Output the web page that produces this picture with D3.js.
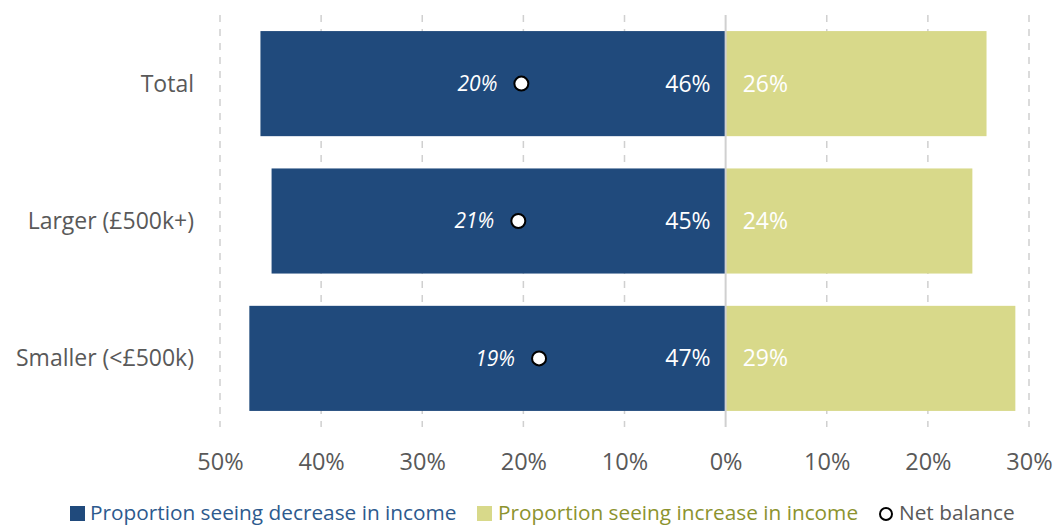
<!DOCTYPE html>
<html><head><meta charset="utf-8">
<script src="https://cdn.jsdelivr.net/npm/d3@7"></script>
<style>body{margin:0;background:#fff}svg{display:block}</style>
</head><body><svg id="c" width="1056" height="526"></svg>
<script>
const categories = ["Total", "Larger (£500k+)", "Smaller (<£500k)"];
const decrease = [46, 44.9, 47.1];
const increase = [25.8, 24.4, 28.65];
const netBalance = [-20.2, -20.5, -18.45];
const decreaseLabels = ["46%", "45%", "47%"];
const increaseLabels = ["26%", "24%", "29%"];
const netLabels = ["20%", "21%", "19%"];
const tickValues = [-50, -40, -30, -20, -10, 0, 10, 20, 30];
const legendLabels = ["Proportion seeing decrease in income", "Proportion seeing increase in income", "Net balance"];

const FONT = "'Open Sans', 'Noto Sans', sans-serif";
const blue = "#204A7C", yellow = "#D8D98A";
const svg = d3.select("#c");
const x = d3.scaleLinear().domain([-50, 30]).range([220, 1029]);
const y = d3.scaleBand().domain(categories).range([15, 427]).paddingInner(0.235).paddingOuter(0.117);

// gridlines
svg.append("g").selectAll("line").data(tickValues.filter(d => d !== 0)).join("line")
  .attr("x1", d => x(d)).attr("x2", d => x(d)).attr("y1", 15).attr("y2", 427)
  .attr("stroke", "#d0d0d0").attr("stroke-width", 1.5).attr("stroke-dasharray", "7,7");

const rows = categories.map((c, i) => ({c, dec: decrease[i], inc: increase[i], net: netBalance[i], dl: decreaseLabels[i], il: increaseLabels[i], nl: netLabels[i]}));

svg.append("g").selectAll("rect").data(rows).join("rect")
  .attr("x", d => x(-d.dec)).attr("width", d => x(0) - x(-d.dec))
  .attr("y", d => y(d.c)).attr("height", y.bandwidth()).attr("fill", blue);
svg.append("g").selectAll("rect").data(rows).join("rect")
  .attr("x", x(0)).attr("width", d => x(d.inc) - x(0))
  .attr("y", d => y(d.c)).attr("height", y.bandwidth()).attr("fill", yellow);

// zero line
svg.append("line").attr("x1", x(0)).attr("x2", x(0)).attr("y1", 15).attr("y2", 427)
  .attr("stroke", "#d0d0d0").attr("stroke-width", 2);

const cy = d => y(d.c) + y.bandwidth() / 2;
const lab = svg.append("g").attr("font-family", FONT).attr("font-size", 23).attr("fill", "#fff");
lab.selectAll(".dl").data(rows).join("text").attr("x", x(0) - 15).attr("y", cy).attr("dy", "0.35em")
  .attr("text-anchor", "end").text(d => d.dl);
lab.selectAll(".il").data(rows).join("text").attr("x", x(0) + 17).attr("y", cy).attr("dy", "0.35em")
  .text(d => d.il);
lab.selectAll(".nl").data(rows).join("text").attr("x", d => x(d.net) - 24).attr("y", cy).attr("dy", "0.35em")
  .attr("text-anchor", "end").attr("font-style", "italic").attr("font-size", 21).text(d => d.nl);
svg.append("g").selectAll("circle").data(rows).join("circle")
  .attr("cx", d => x(d.net)).attr("cy", cy).attr("r", 7)
  .attr("fill", "#fff").attr("stroke", "#000").attr("stroke-width", 2);

// category labels
svg.append("g").selectAll("text").data(categories).join("text")
  .attr("x", 194).attr("y", d => y(d) + y.bandwidth() / 2).attr("dy", "0.35em")
  .attr("text-anchor", "end").attr("font-family", FONT).attr("font-size", 23).attr("fill", "#595959").text(d => d);

// x axis
const xAxis = d3.axisBottom(x).tickValues(tickValues).tickSize(0).tickPadding(0)
  .tickFormat(d => Math.abs(d) + "%");
const ax = svg.append("g").attr("transform", "translate(0,470)").call(xAxis);
ax.select(".domain").remove();
ax.selectAll("text").attr("font-family", FONT).attr("font-size", 23.5).attr("fill", "#595959").attr("dy", "0");

// legend
const lg = svg.append("g").attr("font-family", FONT).attr("font-size", 20.8);
lg.append("rect").attr("x", 70).attr("y", 506).attr("width", 15).attr("height", 15).attr("fill", blue);
lg.append("text").attr("x", 90).attr("y", 520).attr("fill", "#2D5A8E").text(legendLabels[0]);
lg.append("rect").attr("x", 477).attr("y", 506).attr("width", 15).attr("height", 15).attr("fill", yellow);
lg.append("text").attr("x", 498).attr("y", 520).attr("fill", "#8C932E").text(legendLabels[1]);
lg.append("circle").attr("cx", 886).attr("cy", 514).attr("r", 6).attr("fill", "#fff").attr("stroke", "#000").attr("stroke-width", 2);
lg.append("text").attr("x", 899).attr("y", 520).attr("fill", "#595959").text(legendLabels[2]);
</script></body></html>
